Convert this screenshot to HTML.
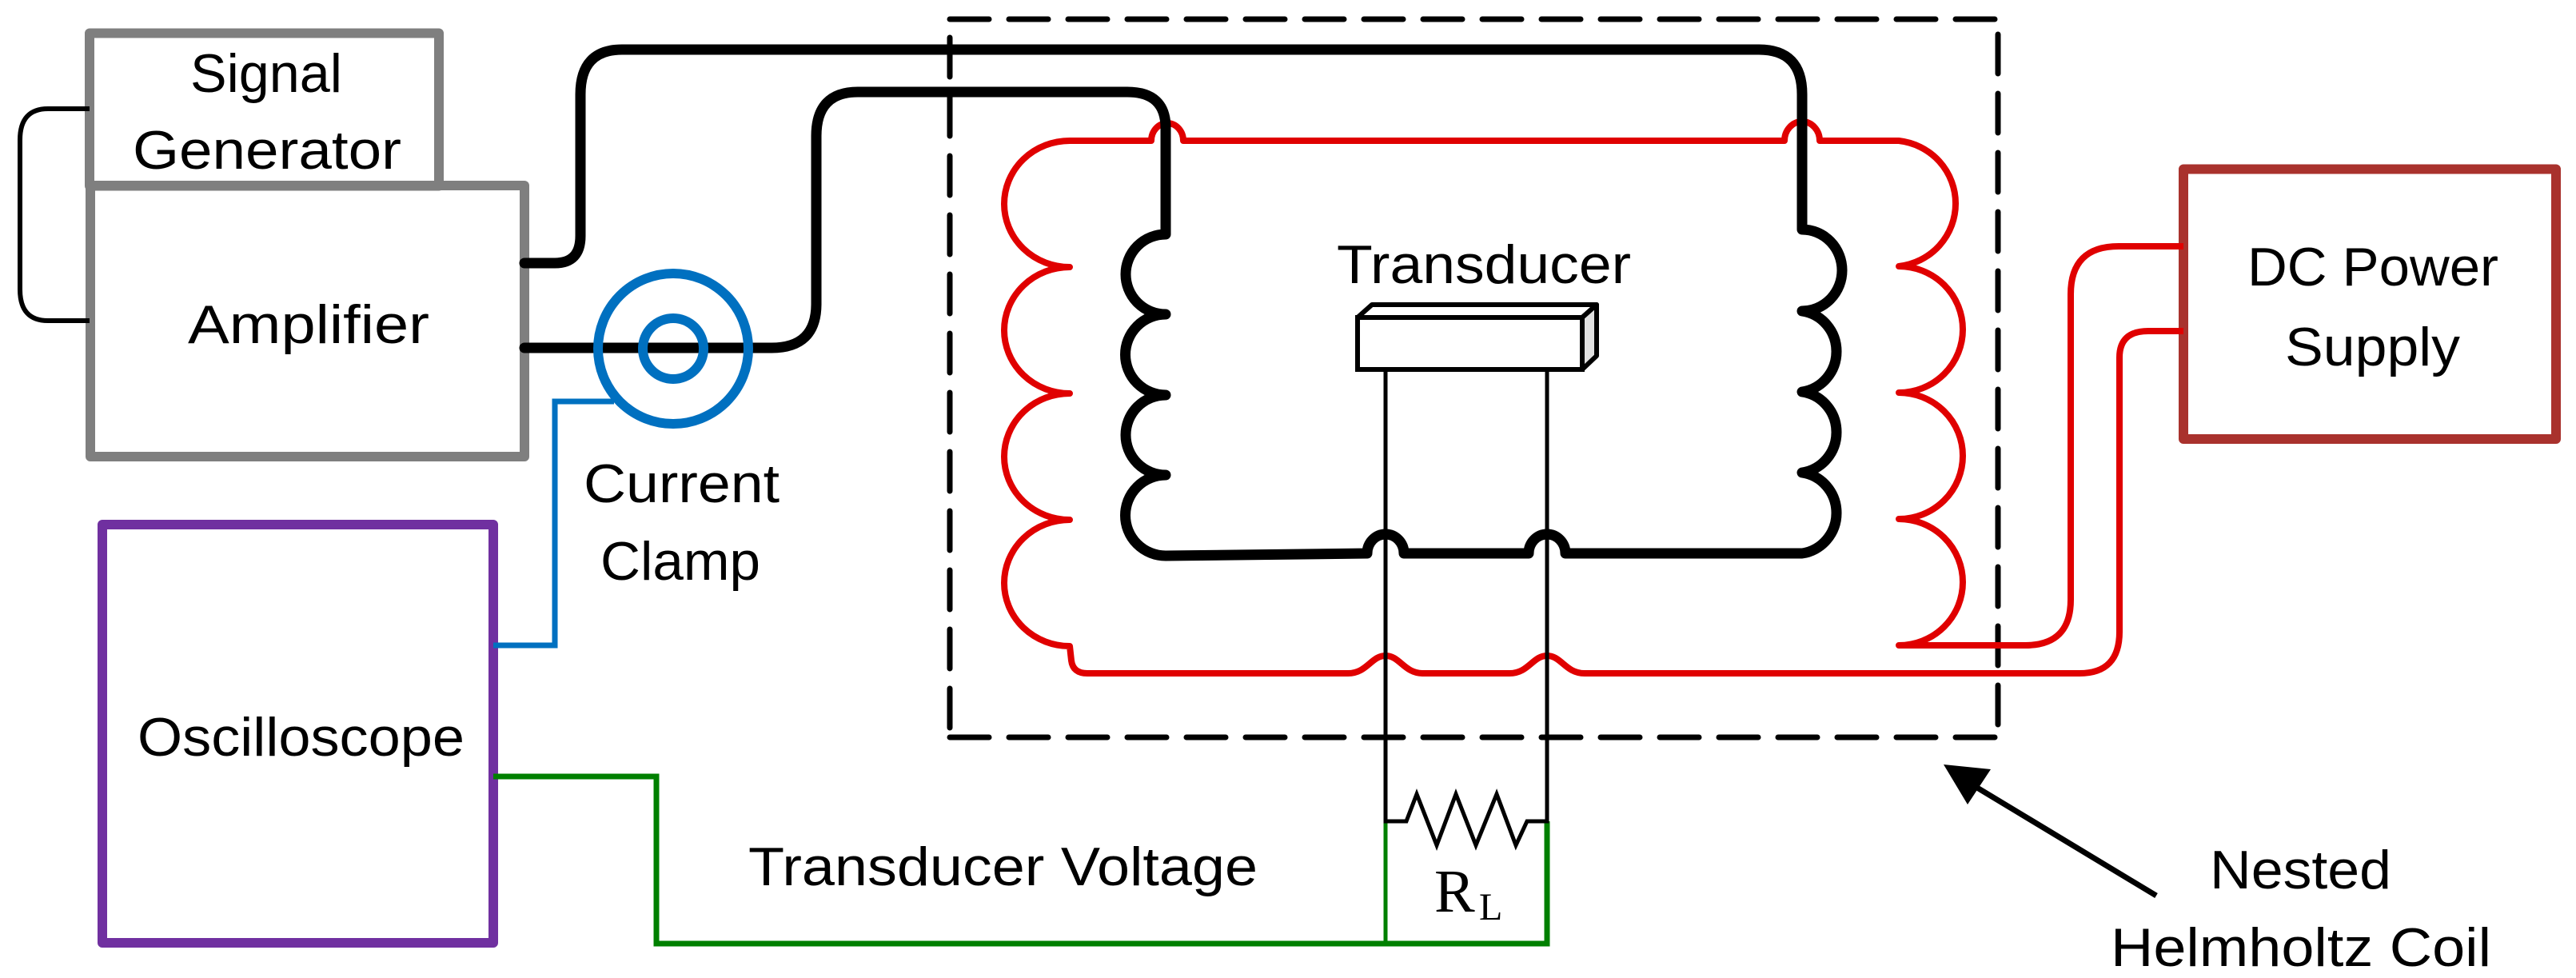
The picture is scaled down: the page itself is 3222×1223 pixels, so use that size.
<!DOCTYPE html>
<html><head><meta charset="utf-8"><style>html,body{margin:0;padding:0;background:#fff}svg{display:block}</style></head>
<body>
<svg width="3222" height="1223" viewBox="0 0 3222 1223" xmlns="http://www.w3.org/2000/svg" font-family="Liberation Sans, sans-serif" font-size="68">
<rect width="3222" height="1223" fill="#fff"/>
<!-- dashed box -->
<g stroke="#000" stroke-width="7" stroke-dasharray="49 25" stroke-linecap="round" fill="none">
<line x1="1188" y1="24" x2="2495" y2="24"/>
<line x1="2499" y1="43" x2="2499" y2="915"/>
<line x1="1188" y1="922" x2="2495" y2="922"/>
<line x1="1188" y1="47" x2="1188" y2="912"/>
</g>
<!-- boxes -->
<g fill="none" stroke-width="12" stroke-linejoin="round">
<rect x="112" y="41.5" width="437" height="191" stroke="#7f7f7f"/>
<rect x="113" y="232" width="543" height="339" stroke="#7f7f7f"/>
<rect x="128" y="656" width="489" height="523" stroke="#7030a0"/>
<rect x="2731" y="211.5" width="466" height="337.5" stroke="#a9322d"/>
</g>
<!-- thin loop -->
<path d="M112,136 L60,136 Q25,136 25,175 L25,362 Q25,401 60,401 L112,401" fill="none" stroke="#000" stroke-width="6"/>
<!-- red wires -->
<g fill="none" stroke="#e00000" stroke-width="8" stroke-linejoin="round">
<path d="M2731,308 L2650,308 Q2590,308 2590,368 L2590,750 Q2590,807 2533,807 L2375,807
A80,79 0 0 0 2375,649 A80,79 0 0 0 2375,491 A80,79 0 0 0 2375,333 A80,79 0 0 0 2375,176
L2276,176 A22,24 0 0 0 2232,176 L1480,176 A20,22 0 0 0 1440,176 L1338,176
A82,79 0 0 0 1338,334 A82,79 0 0 0 1338,492 A82,79 0 0 0 1338,650 A82,79 0 0 0 1338,808
L1340,826 Q1342,842 1360,842 L1686,842 C1710,842 1715,820 1733,820 C1751,820 1756,842 1780,842
L1888,842 C1912,842 1917,820 1935,820 C1953,820 1958,842 1982,842 L2601,842 Q2651,842 2651,790 L2651,447 Q2651,414 2687,414 L2731,414"/>
</g>
<!-- black coil wires -->
<g fill="none" stroke="#000" stroke-width="13" stroke-linejoin="round" stroke-linecap="round">
<path d="M656,329 L694,329 Q726,329 726,295 L726,118 Q726,62 778,62 L2200,62 Q2254,62 2254,118 L2254,287
A50,51 0 0 1 2254,389 A50,51 0 0 1 2254,490 A50,51 0 0 1 2254,591 A50,51 0 0 1 2254,692
L1958,692 A23,24 0 0 0 1912,692 L1756,692 A23,24 0 0 0 1710,692 L1458,695
A50,50 0 0 1 1458,594 A50,50 0 0 1 1458,494 A50,50 0 0 1 1458,393 A50,50 0 0 1 1458,293
L1458,160 Q1458,115 1410,115 L1073,115 Q1021,115 1021,170 L1021,380 Q1021,435 965,435 L656,435"/>
</g>
<!-- clamp -->
<circle cx="842" cy="436" r="94" fill="none" stroke="#0070c0" stroke-width="12"/>
<circle cx="842" cy="436" r="38" fill="none" stroke="#0070c0" stroke-width="12"/>
<path d="M768,502 L694,502 L694,807 L617,807" fill="none" stroke="#0070c0" stroke-width="7"/>
<!-- green -->
<path d="M617,971 L821,971 L821,1180 L1935,1180 L1935,1027" fill="none" stroke="#008000" stroke-width="7"/>
<path d="M1733,1027 L1733,1180" fill="none" stroke="#008000" stroke-width="5"/>
<!-- transducer -->
<path d="M1698,397 L1716,381 L1997,381 L1979,397 Z" fill="#fff" stroke="#000" stroke-width="6" stroke-linejoin="round"/>
<path d="M1979,397 L1997,381 L1997,445 L1979,462 Z" fill="#e0e0e0" stroke="#000" stroke-width="6" stroke-linejoin="round"/>
<rect x="1698" y="397" width="281" height="65" fill="#fff" stroke="#000" stroke-width="6"/>
<path d="M1733,462 L1733,1027 L1759,1027 L1772,993 L1797,1057 L1821,993 L1846,1057 L1872,993 L1896,1057 L1910,1027 L1935,1027 L1935,462" fill="none" stroke="#000" stroke-width="5" stroke-linejoin="miter"/>
<!-- arrow -->
<line x1="2697" y1="1120" x2="2468" y2="982" stroke="#000" stroke-width="7"/>
<polygon points="2431,956 2490,962 2461,1006" fill="#000"/>
<!-- text -->
<g fill="#000" lengthAdjust="spacingAndGlyphs">
<text x="238" y="115" textLength="190" lengthAdjust="spacingAndGlyphs">Signal</text>
<text x="166" y="211" textLength="336" lengthAdjust="spacingAndGlyphs">Generator</text>
<text x="235" y="429" textLength="302" lengthAdjust="spacingAndGlyphs">Amplifier</text>
<text x="730" y="628" textLength="245" lengthAdjust="spacingAndGlyphs">Current</text>
<text x="751" y="725" textLength="200" lengthAdjust="spacingAndGlyphs">Clamp</text>
<text x="172" y="945" textLength="409" lengthAdjust="spacingAndGlyphs">Oscilloscope</text>
<text x="936" y="1107" textLength="637" lengthAdjust="spacingAndGlyphs">Transducer Voltage</text>
<text x="1672" y="354" textLength="368" lengthAdjust="spacingAndGlyphs">Transducer</text>
<text x="2811" y="357" textLength="314" lengthAdjust="spacingAndGlyphs">DC Power</text>
<text x="2858" y="457" textLength="219" lengthAdjust="spacingAndGlyphs">Supply</text>
<text x="2764" y="1111" textLength="227" lengthAdjust="spacingAndGlyphs">Nested</text>
<text x="2640" y="1208" textLength="476" lengthAdjust="spacingAndGlyphs">Helmholtz Coil</text>
<text x="1794" y="1140" font-family="Liberation Serif, serif" font-size="76">R</text>
<text x="1850" y="1150" font-family="Liberation Serif, serif" font-size="48">L</text>
</g>
</svg>
</body></html>
